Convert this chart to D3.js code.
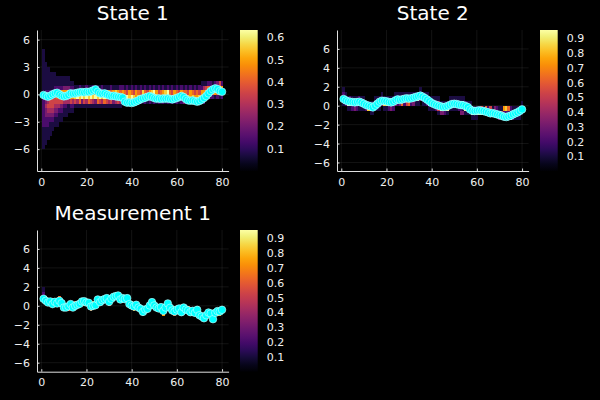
<!DOCTYPE html>
<html><head><meta charset="utf-8">
<script src="https://cdn.jsdelivr.net/npm/d3@7"></script>
<style>html,body{margin:0;background:#000;} svg{display:block}</style>
</head><body>
<svg id="c" width="600" height="400"></svg>
<script>
// ---------- data ----------
const steps = [1,2,3,4,5,6,7,8,9,10,11,12,13,14,15,16,17,18,19,20,21,22,23,24,25,26,27,28,29,30,31,32,33,34,35,36,37,38,39,40,41,42,43,44,45,46,47,48,49,50,51,52,53,54,55,56,57,58,59,60,61,62,63,64,65,66,67,68,69,70,71,72,73,74,75,76,77,78,79,80];

const state1 = [-0.07,-0.18,-0.26,-0.15,0,0.11,0.18,0,-0.15,-0.22,-0.18,-0.07,0.11,0.07,0.11,0.18,0.22,0.26,0.22,0.29,
  0.26,0.33,0.44,0.55,0.29,0.11,0.07,0.11,0,-0.11,-0.18,-0.15,-0.22,-0.26,-0.29,-0.36,-0.8,-0.91,-0.88,-0.95,
  -0.88,-0.77,-0.66,-0.51,-0.44,-0.36,-0.26,-0.18,-0.29,-0.4,-0.47,-0.44,-0.51,-0.44,-0.47,-0.44,-0.51,-0.55,-0.47,-0.4,
  -0.29,-0.18,-0.29,-0.51,-0.66,-0.69,-0.66,-0.73,-0.8,-0.73,-0.58,-0.4,-0.18,0.11,0.36,0.55,0.66,0.58,0.36,0.29];

const state2 = [0.71,0.56,0.46,0.42,0.39,0.35,0.39,0.42,0.32,0.21,0.07,0,-0.07,-0.18,0,0.21,0.42,0.53,0.49,0.46,
  0.39,0.35,0.42,0.56,0.67,0.6,0.67,0.74,0.78,0.74,0.78,0.85,0.92,0.99,1.06,0.95,0.81,0.64,0.46,0.28,
  0.18,0.07,0,-0.07,-0.14,-0.11,-0.04,0.07,0.18,0.21,0.18,0.11,0.07,0.04,-0.04,-0.14,-0.39,-0.53,-0.56,-0.53,
  -0.49,-0.53,-0.56,-0.64,-0.71,-0.81,-0.78,-0.85,-0.92,-0.99,-1.06,-1.16,-1.2,-1.13,-1.06,-0.92,-0.81,-0.71,-0.56,-0.39];

const measurement1 = [0.74,0.53,0.35,0.46,0.18,0.42,0.25,0.53,0.28,-0.18,-0.18,-0.04,0.18,-0.18,0,0.11,0.21,0.46,0.49,0.35,
  0.32,-0.07,0,0.07,0.67,0.39,0.6,0.71,0.81,0.42,0.74,0.95,1.02,1.09,0.67,0.81,0.71,0.81,0.18,0.04,
  -0.07,0.11,-0.18,-0.32,-0.64,-0.39,-0.32,0.04,0.39,0.04,-0.18,-0.28,-0.14,-0.53,-0.18,0.25,-0.21,-0.49,-0.6,-0.39,
  -0.28,-0.67,-0.18,-0.39,-0.49,-0.67,-0.53,-0.74,-0.42,-0.99,-1.13,-1.31,-0.99,-0.71,-0.81,-1.41,-0.74,-0.56,-0.6,-0.42];

// heatmap columns: [lower edge of first bin, intensity levels of successive 0.5-high bins, bottom to top]
const heatState1 = [
  [-6,"1111122222221111111111"],[-5.5,"111122334332111111"],[-5,"1112234543211111"],[-4.5,"11123455321111"],
  [-4,"1123455421111"],[-3.5,"112345542111"],[-3.5,"11234565211"],[-3,"1124566211"],[-3,"1123567211"],[-2.5,"112467311"],
  [-2.5,"112467311"],[-2,"11468311"],[-2,"1257821"],[-2,"1247821"],[-1.5,"15871"],[-1.5,"14971"],
  [-1.5,"16862"],[-1.5,"13971"],[-1.5,"15881"],[-1.5,"14972"],[-1.5,"16871"],[-1.5,"15961"],
  [-1.5,"14872"],[-1.5,"13971"],[-1.5,"16881"],[-1.5,"15971"],[-1.5,"14862"],[-1.5,"16971"],
  [-1.5,"15881"],[-1.5,"14971"],[-1.5,"15862"],[-1.5,"13971"],[-1.5,"14881"],[-1.5,"15971"],
  [-1.5,"14862"],[-1,"2872"],[-1,"2961"],[-1,"2952"],[-1,"2871"],[-1,"1962"],
  [-1,"2851"],[-1,"2772"],[-1,"1861"],[-1,"2752"],[-1,"1781"],[-1,"2662"],
  [-1,"1751"],[-1,"2672"],[-1,"1781"],[-1,"2692"],[-1,"1771"],[-1,"2652"],
  [-1,"1761"],[-1,"2672"],[-1,"1781"],[-1,"2692"],[-1,"1761"],[-1,"2652"],
  [-1,"1771"],[-1,"2762"],[-1,"1851"],[-1,"2772"],[-1,"3861"],[-1,"2762"],
  [-1,"4851"],[-1,"3772"],[-1,"2861"],[-1,"3752"],[-1,"2761"],[-1,"2852"],
  [-1,"26721"],[-1,"25741"],[-0.5,"4751"],[-0.5,"3762"],[-0.5,"2772"],[-0.5,"2681"],
  [-0.5,"1782"],[-0.5,"2673"],[-0.5,"1685"],[-0.5,"2772"]
];
const heatState2 = [
  [0,"1921"],[0,"291"],[-0.5,"191"],[-0.5,"192"],[-0.5,"291"],[-0.5,"391"],[-0.5,"291"],[-0.5,"192"],[-0.5,"191"],[-0.5,"191"],
  [-0.5,"28"],[-0.5,"81"],[-1,"191"],[-1,"191"],[-0.5,"191"],[-0.5,"181"],[-0.5,"181"],[0,"371"],[-0.5,"181"],[-0.5,"181"],
  [-0.5,"291"],[-0.5,"391"],[-0.5,"281"],[0,"371"],[0,"291"],[0,"391"],[0,"691"],[0,"291"],[0,"591"],[0,"691"],
  [0,"291"],[0,"391"],[0,"191"],[0,"192"],[0.5,"391"],[0,"191"],[0,"191"],[0,"291"],[-0.5,"191"],[-0.5,"191"],
  [-0.5,"191"],[-0.5,"281"],[-1,"1541"],[-1,"391"],[-1,"391"],[-1,"281"],[-1,"191"],[-0.5,"191"],[-0.5,"191"],[-0.5,"191"],
  [-0.5,"191"],[-0.5,"291"],[-1,"3291"],[-1,"3191"],[-1,"192"],[-1,"191"],[-1,"191"],[-1.5,"191"],[-1.5,"191"],[-1.5,"191"],
  [-1,"92"],[-1,"95"],[-1,"91"],[-1,"96"],[-1,"92"],[-1,"95"],[-1,"91"],[-1,"93"],[-1,"92"],[-1.5,"391"],
  [-1.5,"951"],[-1.5,"927"],[-1.5,"928"],[-1.5,"926"],[-1.5,"942"],[-1.5,"291"],[-1.5,"191"],[-1.5,"191"],[-1.5,"191"],[-1,"191"]
];
const heatMeas1 = [
  [0.5,"821"],[0.5,"7"],[0,"8"],[0,"9"],[0,"6"],[0,"7"],[0,"8"],[0.5,"6"],[0,"7"],[-0.5,"8"],
  [-0.5,"7"],[-0.5,"6"],[0,"7"],[-0.5,"8"],[0,"6"],[0,"7"],[0,"8"],[0,"7"],[0,"6"],[0,"8"],
  [0,"7"],[-0.5,"6"],[0,"7"],[0,"8"],[0.5,"7"],[0,"6"],[0.5,"8"],[0.5,"7"],[0.5,"9"],[0,"6"],
  [0.5,"7"],[0.5,"8"],[1,"7"],[1,"6"],[0.5,"8"],[0.5,"7"],[0.5,"8"],[0.5,"6"],[0,"7"],[0,"8"],
  [-0.5,"7"],[0,"6"],[-0.5,"8"],[-0.5,"7"],[-1,"6"],[-0.5,"7"],[-0.5,"8"],[0,"7"],[0,"6"],[0,"8"],
  [-0.5,"7"],[-0.5,"6"],[-0.5,"8"],[-1,"7"],[-0.5,"6"],[0,"7"],[-0.5,"8"],[-0.5,"7"],[-1,"6"],[-0.5,"8"],
  [-0.5,"7"],[-1,"6"],[-0.5,"8"],[-0.5,"7"],[-0.5,"6"],[-1,"8"],[-1,"7"],[-1,"6"],[-0.5,"8"],[-1,"7"],
  [-1.5,"6"],[-1.5,"8"],[-1,"7"],[-1,"6"],[-1,"8"],[-1.5,"7"],[-1,"6"],[-1,"8"],[-1,"7"],[-0.5,"9"]
];
const levelValue1 = [0,0.07,0.14,0.21,0.28,0.35,0.42,0.49,0.56,0.63];
const levelValue2 = [0,0.105,0.21,0.315,0.42,0.525,0.63,0.735,0.84,0.945];

const titles = ["State 1","State 2","Measurement 1"];
const xTicks = [0,20,40,60,80];
const yTicksA = [-6,-3,0,3,6];
const yTicksB = [-6,-4,-2,0,2,4,6];
const cbTicksA = [0.1,0.2,0.3,0.4,0.5,0.6];
const cbTicksB = [0.1,0.2,0.3,0.4,0.5,0.6,0.7,0.8,0.9];
const cbMaxA = 0.633, cbMaxB = 0.956;

// ---------- drawing ----------
const svg = d3.select("#c");
svg.append("rect").attr("width",600).attr("height",400).attr("fill","#000");
const FONT = "DejaVu Sans, sans-serif";
const BIN = 0.5;

const panels = [
  {title:titles[0], l:37, r:228.6, t:30, b:171, yd:[-8.4,7.06], yTicks:yTicksA, pts:state1, heat:heatState1, lv:levelValue1, cbMax:cbMaxA, cbTicks:cbTicksA, cbX:240, titleY:19.5},
  {title:titles[1], l:337, r:528.6, t:30, b:171, yd:[-6.9,8.0], yTicks:yTicksB, pts:state2, heat:heatState2, lv:levelValue2, cbMax:cbMaxB, cbTicks:cbTicksB, cbX:540, titleY:19.5},
  {title:titles[2], l:37, r:228.6, t:230, b:371.7, yd:[-6.95,8.0], yTicks:yTicksB, pts:measurement1, heat:heatMeas1, lv:levelValue2, cbMax:cbMaxB, cbTicks:cbTicksB, cbX:240, titleY:219.5}
];

panels.forEach((p,pi) => {
  const x = d3.scaleLinear().domain([-1.9,82.9]).range([p.l,p.r]);
  const y = d3.scaleLinear().domain(p.yd).range([p.b,p.t]);
  const color = d3.scaleSequential(d3.interpolateInferno).domain([0,p.cbMax]);
  const g = svg.append("g");

  // grid
  g.append("g").selectAll("line").data(xTicks).join("line")
    .attr("x1",d=>x(d)).attr("x2",d=>x(d)).attr("y1",p.t).attr("y2",p.b)
    .attr("stroke","#fff").attr("stroke-opacity",0.13).attr("stroke-width",0.6);
  g.append("g").selectAll("line").data(p.yTicks).join("line")
    .attr("y1",d=>y(d)).attr("y2",d=>y(d)).attr("x1",p.l).attr("x2",p.r)
    .attr("stroke","#fff").attr("stroke-opacity",0.13).attr("stroke-width",0.6);

  // heat cells
  const cells = [];
  p.heat.forEach((col,i) => {
    const start = col[0];
    col[1].split("").forEach((ch,k) => {
      const v = p.lv[+ch];
      if (v > 0) cells.push({t:steps[i], y0:start + k*BIN, v});
    });
  });
  g.append("g").attr("shape-rendering","crispEdges").selectAll("rect").data(cells).join("rect")
    .attr("x",d=>x(d.t-0.5)).attr("width",d=>x(d.t+0.5)-x(d.t-0.5)+0.3)
    .attr("y",d=>y(d.y0+BIN)).attr("height",d=>y(d.y0)-y(d.y0+BIN)+0.3)
    .attr("fill",d=>color(d.v));

  // axes
  const ax = g.append("g").attr("transform",`translate(0,${p.b})`)
    .call(d3.axisBottom(x).tickValues(xTicks).tickFormat(d3.format("d")).tickSizeInner(-2.5).tickSizeOuter(0).tickPadding(7));
  const ay = g.append("g").attr("transform",`translate(${p.l},0)`)
    .call(d3.axisLeft(y).tickValues(p.yTicks).tickFormat(d3.format("d")).tickSizeInner(-2.5).tickSizeOuter(0).tickPadding(7));
  [ax,ay].forEach(a => {
    a.select(".domain").attr("stroke","#e0e0e0").attr("stroke-width",1);
    a.selectAll(".tick line").attr("stroke","#e0e0e0");
    a.selectAll("text").attr("fill","#f0f0f0").attr("font-size",11).attr("font-family",FONT);
  });

  // points
  g.append("g").selectAll("circle").data(p.pts).join("circle")
    .attr("cx",(d,i)=>x(steps[i])).attr("cy",d=>y(d)).attr("r",3.8)
    .attr("fill","#00ffff").attr("stroke","#c8ffff").attr("stroke-width",0.6);

  // title
  svg.append("text").attr("x",(p.l+p.r)/2).attr("y",p.titleY).attr("text-anchor","middle")
    .attr("fill","#fff").attr("font-size",20).attr("font-family",FONT).text(p.title);

  // colorbar
  const cy = d3.scaleLinear().domain([0,p.cbMax]).range([p.b,p.t]);
  const gid = "grad"+pi;
  const grad = svg.append("defs").append("linearGradient").attr("id",gid)
    .attr("x1",0).attr("x2",0).attr("y1",1).attr("y2",0);
  d3.range(0,1.0001,0.05).forEach(s => grad.append("stop").attr("offset",s).attr("stop-color",d3.interpolateInferno(s)));
  svg.append("rect").attr("x",p.cbX).attr("y",p.t).attr("width",17.7).attr("height",p.b-p.t).attr("fill",`url(#${gid})`);
  const ac = svg.append("g").attr("transform",`translate(${p.cbX+17.7},0)`)
    .call(d3.axisRight(cy).tickValues(p.cbTicks).tickFormat(d3.format(".1f")).tickSize(0).tickPadding(9));
  ac.select(".domain").remove();
  ac.selectAll("text").attr("fill","#f0f0f0").attr("font-size",11).attr("font-family",FONT);
});
</script>
</body></html>
